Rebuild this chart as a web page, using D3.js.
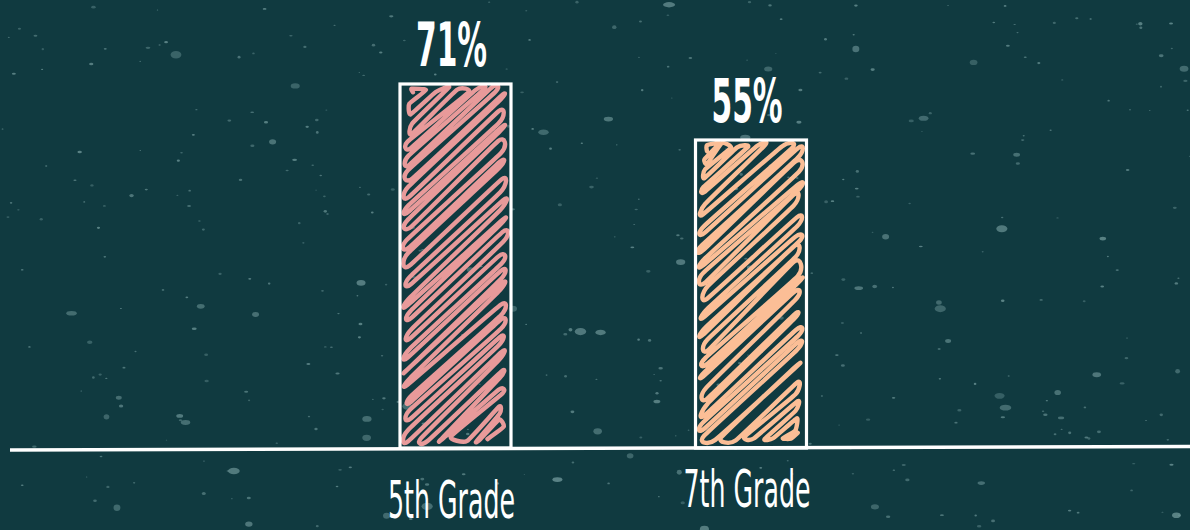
<!DOCTYPE html>
<html>
<head>
<meta charset="utf-8">
<script src="https://cdn.jsdelivr.net/npm/d3@7/dist/d3.min.js"></script>
<style>
  html, body { margin: 0; padding: 0; background: #103a40; }
  svg { display: block; }
</style>
</head>
<body>
<svg id="chart" width="1190" height="530"></svg>
<script>
// Share of students by grade
const categories = ["5th Grade", "7th Grade"];
const shares = [71, 55];
const shareLabels = ["71%", "55%"];
const barColors = ["#e89a9a", "#fbbe96"];

const W = 1190, H = 530;
const bg = "#103a40";
const svg = d3.select("#chart");

svg.append("rect").attr("width", W).attr("height", H).attr("fill", bg);

// chalkboard speckles (seeded so the texture is stable)
const rnd = d3.randomLcg(0.4172);
const speck = svg.append("g");
for (let i = 0; i < 420; i++) {
  const big = rnd() < 0.18;
  const r = big ? 1.6 + rnd() * 2.4 : 0.6 + rnd() * 1.0;
  speck.append("ellipse")
    .attr("cx", rnd() * W)
    .attr("cy", rnd() * H)
    .attr("rx", r * (1 + rnd() * 0.6))
    .attr("ry", r * (0.6 + rnd() * 0.4))
    .attr("fill", "#6d9597")
    .attr("opacity", 0.4 + rnd() * 0.4);
}

// scales
const x = d3.scaleBand()
  .domain(categories)
  .range([104.5, 1102])
  .paddingInner(0.6244)
  .paddingOuter(1);

const y = d3.scaleLinear()
  .domain([-33, d3.max(shares)])
  .range([448, 84]);

// scribbled zigzag fill inside a rectangle
function scribblePoints(x0, y0, x1, y1, angleDeg, gapMin, gapMax, r) {
  const a = angleDeg * Math.PI / 180;
  const dx = Math.cos(a), dy = -Math.sin(a);
  const nx = -dy, ny = dx;
  const corners = [[x0, y0], [x1, y0], [x0, y1], [x1, y1]].map(p => nx * p[0] + ny * p[1]);
  const cmin = d3.min(corners), cmax = d3.max(corners);
  const pts = [];
  let i = 0;
  let c = cmin + 2;
  while (c < cmax - 1) {
    const hits = [];
    [x0, x1].forEach(xx => {
      const yy = (c - nx * xx) / ny;
      if (yy >= y0 && yy <= y1) hits.push([xx, yy]);
    });
    [y0, y1].forEach(yy => {
      const xx = (c - ny * yy) / nx;
      if (xx >= x0 && xx <= x1) hits.push([xx, yy]);
    });
    if (hits.length >= 2) {
      hits.sort((p, q) => (p[0] * dx + p[1] * dy) - (q[0] * dx + q[1] * dy));
      const A = hits[0], B = hits[hits.length - 1];
      const jit = s => (r() - 0.5) * s;
      const a2 = [A[0] + jit(6), A[1] + jit(6)];
      const b2 = [B[0] + jit(6), B[1] + jit(6)];
      if (i % 2 === 0) pts.push(a2, b2); else pts.push(b2, a2);
      i++;
    }
    c += gapMin + r() * (gapMax - gapMin);
  }
  return pts;
}

const line = d3.line().curve(d3.curveCardinal.tension(0.55));
const baseY = y(-33);

const bars = svg.append("g");
categories.forEach((cat, i) => {
  const bx = x(cat), bw = x.bandwidth();
  const top = y(shares[i]);
  const g = bars.append("g");
  const ins = { l: 10, r: 10, t: 6, b: 9 };
  const rr = d3.randomLcg(0.23 + i * 0.31);
  g.append("path")
    .attr("d", line(scribblePoints(bx + ins.l, top + ins.t, bx + bw - ins.r, baseY - ins.b, 43, 4, 8.5, rr)))
    .attr("fill", "none")
    .attr("stroke", barColors[i])
    .attr("stroke-width", 4.4)
    .attr("stroke-linecap", "round")
    .attr("stroke-linejoin", "round");
  g.append("rect")
    .attr("x", bx)
    .attr("y", top)
    .attr("width", bw)
    .attr("height", baseY - top)
    .attr("fill", "none")
    .attr("stroke", "#ffffff")
    .attr("stroke-width", 3.2);
});

// baseline
svg.append("line")
  .attr("x1", 10).attr("y1", 450)
  .attr("x2", W).attr("y2", 446.5)
  .attr("stroke", "#ffffff")
  .attr("stroke-width", 3.5);

// value labels
const font = "'Liberation Sans Narrow', 'DejaVu Sans Condensed', sans-serif";
categories.forEach((cat, i) => {
  const cx = x(cat) + x.bandwidth() / 2 - 4;
  svg.append("g")
    .attr("transform", `translate(${cx},${y(shares[i]) - 18}) scale(0.55,1)`)
    .append("text")
    .attr("text-anchor", "middle")
    .attr("font-family", font)
    .attr("font-weight", "bold")
    .attr("font-size", 60)
    .attr("fill", "#ffffff")
    .text(shareLabels[i]);
});

// category labels, hand-lettered drift
const labelDrop = [70, 59];
categories.forEach((cat, i) => {
  const cx = x(cat) + x.bandwidth() / 2 - 4;
  svg.append("g")
    .attr("transform", `translate(${cx},${baseY + labelDrop[i]}) scale(0.54,1)`)
    .append("text")
    .attr("text-anchor", "middle")
    .attr("font-family", font)
    .attr("font-size", 52)
    .attr("fill", "#ffffff")
    .text(cat);
});
</script>
</body>
</html>
